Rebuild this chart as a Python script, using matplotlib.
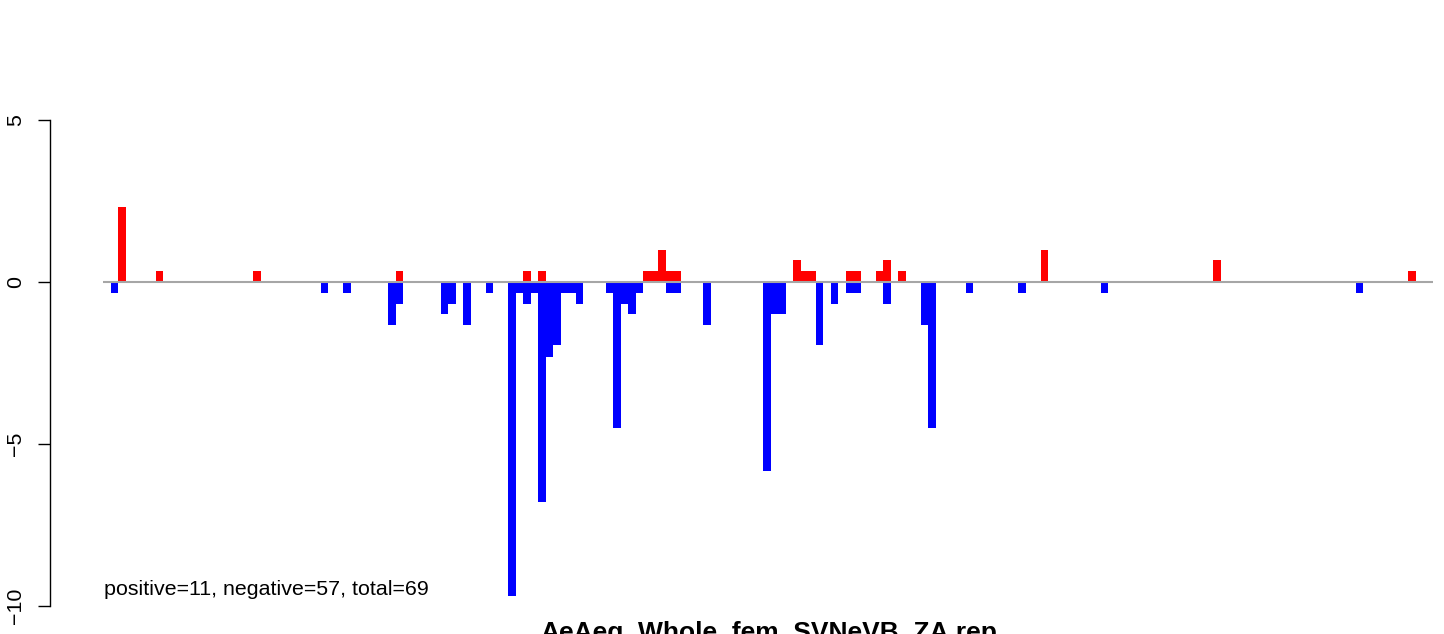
import matplotlib
matplotlib.use("Agg")
import matplotlib.pyplot as plt

plt.rcParams["font.family"] = ["Liberation Sans", "DejaVu Sans"]

# bin index along the genome and bar heights (positive / negative)
pos_bins = [1, 6, 19, 38, 55, 57, 71, 72, 73, 74, 75, 91, 92, 93, 98, 99,
            102, 103, 105, 124, 147, 173]
pos_vals = [2.3, 0.33, 0.33, 0.33, 0.33, 0.33, 0.33, 0.33, 1.0, 0.33, 0.33,
            0.67, 0.33, 0.33, 0.33, 0.33, 0.33, 0.67, 0.33, 1.0, 0.67, 0.33]

neg_bins = [0, 28, 31, 37, 38, 44, 45, 47, 50, 53, 54, 55, 56, 57, 58, 59,
            60, 61, 62, 66, 67, 68, 69, 70, 74, 75, 79, 87, 88, 89, 94, 96,
            98, 99, 103, 108, 109, 114, 121, 132, 166]
neg_vals = [-0.33, -0.33, -0.33, -1.33, -0.67, -1.0, -0.67, -1.33, -0.33,
            -9.7, -0.33, -0.67, -0.33, -6.8, -2.3, -1.95, -0.33, -0.33, -0.67,
            -0.33, -4.5, -0.67, -1.0, -0.33, -0.33, -0.33, -1.33, -5.83, -1.0,
            -1.0, -1.95, -0.67, -0.33, -0.33, -0.67, -1.33, -4.5, -0.33, -0.33,
            -0.33, -0.33]

y_ticks = [-10, -5, 0, 5]
summary = "positive=11, negative=57, total=69"
title = "AeAeg_Whole_fem_SVNeVB_ZA.rep"

W, H = 1444, 634
fig = plt.figure(figsize=(W / 100, H / 100), dpi=100)
ax = fig.add_axes([50 / W, (H - 606) / H, (1440 - 50) / W, (606 - 120) / H])

ax.bar(pos_bins, pos_vals, width=1.0, align="edge", color="#ff0000",
       linewidth=0, zorder=2)
ax.bar(neg_bins, neg_vals, width=1.0, align="edge", color="#0000ff",
       linewidth=0, zorder=2)
ax.plot([-1.07, 176.3], [0, 0], color="#a6a6a6", linewidth=1.5, zorder=3,
        solid_capstyle="butt")

ax.set_xlim(-8.133, 177.2)
ax.set_ylim(-10, 5)

for side in ["top", "right", "bottom"]:
    ax.spines[side].set_visible(False)
ax.spines["left"].set_bounds(-10, 5)
ax.spines["left"].set_linewidth(1.0)
ax.set_xticks([])
ax.set_yticks(y_ticks)
ax.set_yticklabels([str(t).replace("-", "\u2212") for t in y_ticks])
ax.tick_params(axis="y", length=9, width=1.0, pad=9, labelsize=15.4,
               labelrotation=90)
for lab in ax.get_yticklabels():
    lab.set_va("center")

ax.text(-0.93, -9.48, summary, fontsize=15.4, ha="left", va="center")

fig.text(769 / W, 1 - 621 / H, title, fontsize=19, fontweight="bold",
         ha="center", va="top")

fig.savefig("out.png", dpi=100)
